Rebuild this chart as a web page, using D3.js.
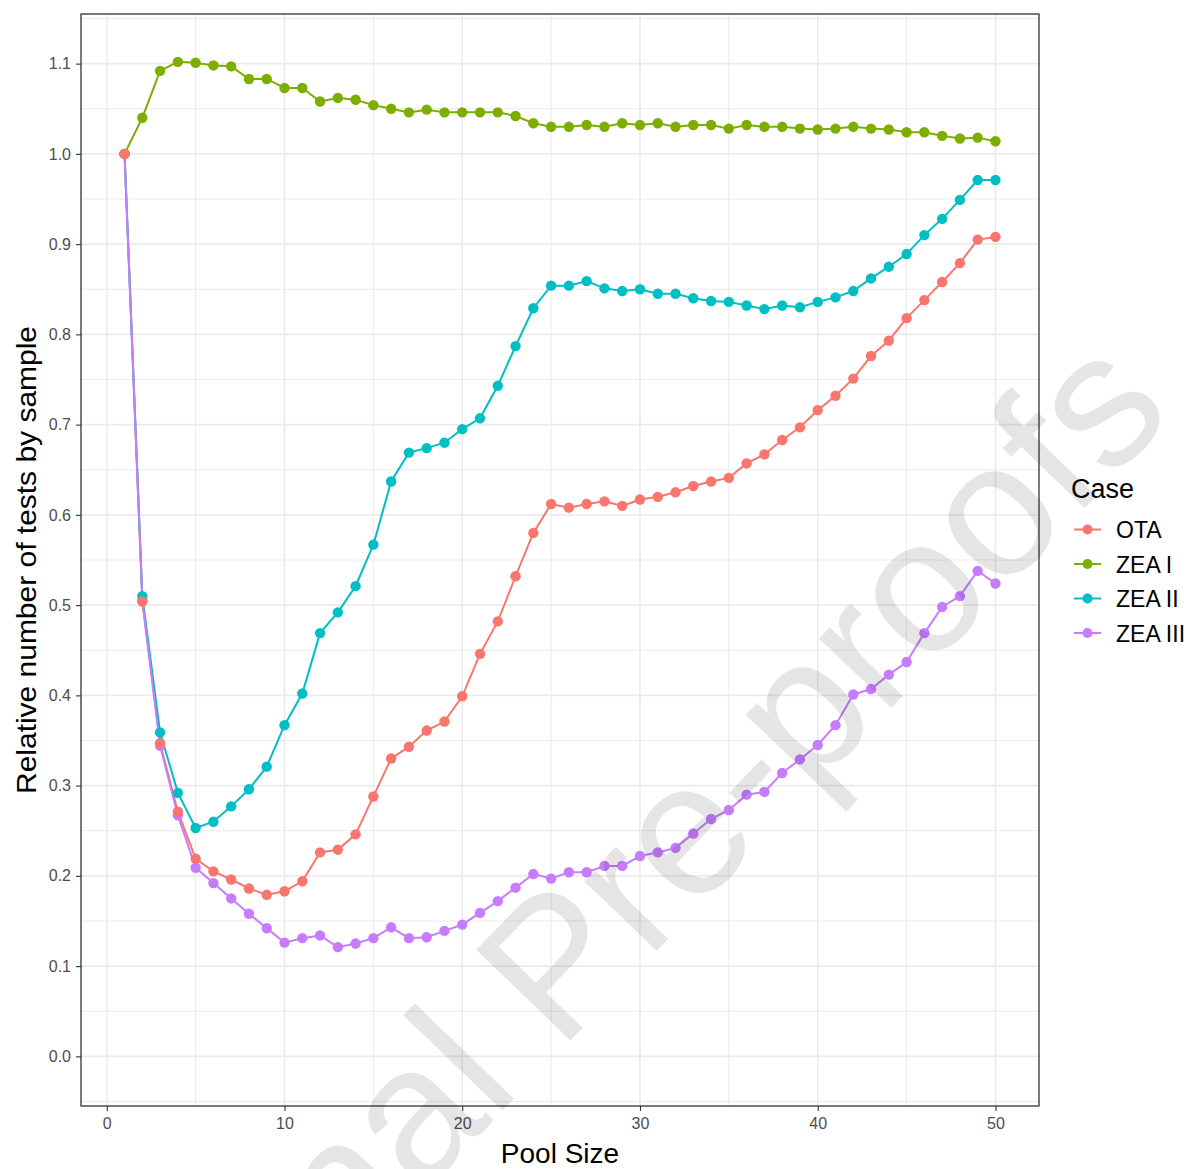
<!DOCTYPE html>
<html>
<head>
<meta charset="utf-8">
<script src="https://cdn.jsdelivr.net/npm/d3@7/dist/d3.min.js"></script>
<style>
  html, body { margin: 0; padding: 0; background: #fff; }
  svg { display: block; }
</style>
</head>
<body>
<svg id="chart" width="1187" height="1169"></svg>
<script>
const poolSize = d3.range(1, 51);
const caseNames = ["OTA", "ZEA I", "ZEA II", "ZEA III"];
const caseColors = ["#F8766D", "#7CAE00", "#00BFC4", "#C77CFF"];

const otaValues = [1.000, 0.504, 0.347, 0.271, 0.219, 0.205, 0.196, 0.186, 0.179, 0.183,
  0.194, 0.226, 0.229, 0.246, 0.288, 0.330, 0.343, 0.361, 0.371, 0.399,
  0.446, 0.482, 0.532, 0.580, 0.612, 0.608, 0.612, 0.615, 0.610, 0.617,
  0.620, 0.625, 0.632, 0.637, 0.641, 0.657, 0.667, 0.683, 0.697, 0.716,
  0.732, 0.751, 0.776, 0.793, 0.818, 0.838, 0.858, 0.879, 0.905, 0.908];
const zea1Values = [1.000, 1.040, 1.092, 1.102, 1.101, 1.098, 1.097, 1.083, 1.083, 1.073,
  1.073, 1.058, 1.062, 1.060, 1.054, 1.050, 1.046, 1.049, 1.046, 1.046,
  1.046, 1.046, 1.042, 1.034, 1.030, 1.030, 1.032, 1.030, 1.034, 1.032,
  1.034, 1.030, 1.032, 1.032, 1.028, 1.032, 1.030, 1.030, 1.028, 1.027,
  1.028, 1.030, 1.028, 1.027, 1.024, 1.024, 1.020, 1.017, 1.018, 1.014];
const zea2Values = [1.000, 0.510, 0.359, 0.292, 0.253, 0.260, 0.277, 0.296, 0.321, 0.367,
  0.402, 0.469, 0.492, 0.521, 0.567, 0.637, 0.669, 0.674, 0.680, 0.695,
  0.707, 0.743, 0.787, 0.829, 0.854, 0.854, 0.859, 0.851, 0.848, 0.850,
  0.845, 0.845, 0.840, 0.837, 0.836, 0.832, 0.828, 0.832, 0.830, 0.836,
  0.841, 0.848, 0.862, 0.875, 0.889, 0.910, 0.928, 0.949, 0.971, 0.971];
const zea3Values = [1.000, 0.505, 0.344, 0.267, 0.209, 0.192, 0.175, 0.158, 0.142, 0.126,
  0.131, 0.134, 0.121, 0.125, 0.131, 0.143, 0.131, 0.132, 0.139, 0.146,
  0.159, 0.172, 0.187, 0.202, 0.197, 0.204, 0.204, 0.211, 0.211, 0.222,
  0.226, 0.231, 0.247, 0.263, 0.273, 0.290, 0.293, 0.314, 0.329, 0.345,
  0.367, 0.401, 0.407, 0.423, 0.437, 0.469, 0.498, 0.510, 0.538, 0.524];

const xTicks = [0, 10, 20, 30, 40, 50];
const xMinor = [5, 15, 25, 35, 45];
const yTicks = [0.0, 0.1, 0.2, 0.3, 0.4, 0.5, 0.6, 0.7, 0.8, 0.9, 1.0, 1.1];
const yMinor = [-0.05, 0.05, 0.15, 0.25, 0.35, 0.45, 0.55, 0.65, 0.75, 0.85, 0.95, 1.05, 1.15];
const xTitle = "Pool Size";
const yTitle = "Relative number of tests by sample";
const legendTitle = "Case";
const watermark = "Journal Pre-proofs";

const seriesValues = [otaValues, zea1Values, zea2Values, zea3Values];
const series = caseNames.map((name, i) => ({
  name, color: caseColors[i],
  points: poolSize.map((xv, j) => ({ x: xv, y: seriesValues[i][j] }))
}));

const svg = d3.select("#chart");
const pLeft = 81, pRight = 1039, pTop = 14, pBottom = 1106;
const FONT = "'Liberation Sans', Arial, Helvetica, sans-serif";

const xScale = d3.scaleLinear().domain([-1.45, 52.45]).range([pLeft, pRight]);
const yScale = d3.scaleLinear().domain([-0.055, 1.155]).range([pBottom, pTop]);

svg.append("rect").attr("width", 1187).attr("height", 1169).attr("fill", "#fff");

const grid = svg.append("g");
grid.selectAll(".ymin").data(yMinor).join("line")
  .attr("x1", pLeft).attr("x2", pRight)
  .attr("y1", d => yScale(d)).attr("y2", d => yScale(d))
  .attr("stroke", "#EBEBEB").attr("stroke-width", 1);
grid.selectAll(".xmin").data(xMinor).join("line")
  .attr("y1", pTop).attr("y2", pBottom)
  .attr("x1", d => xScale(d)).attr("x2", d => xScale(d))
  .attr("stroke", "#EBEBEB").attr("stroke-width", 1);
grid.selectAll(".ymaj").data(yTicks).join("line")
  .attr("x1", pLeft).attr("x2", pRight)
  .attr("y1", d => yScale(d)).attr("y2", d => yScale(d))
  .attr("stroke", "#EBEBEB").attr("stroke-width", 1.6);
grid.selectAll(".xmaj").data(xTicks).join("line")
  .attr("y1", pTop).attr("y2", pBottom)
  .attr("x1", d => xScale(d)).attr("x2", d => xScale(d))
  .attr("stroke", "#EBEBEB").attr("stroke-width", 1.6);

// lines
const line = d3.line().x(d => xScale(d.x)).y(d => yScale(d.y));
svg.append("g").selectAll("path").data(series).join("path")
  .attr("d", d => line(d.points))
  .attr("fill", "none")
  .attr("stroke", d => d.color)
  .attr("stroke-width", 2);

// points (reverse order so OTA ends on top)
const pts = svg.append("g");
series.slice().reverse().forEach(s => {
  pts.append("g").selectAll("circle").data(s.points).join("circle")
    .attr("cx", d => xScale(d.x)).attr("cy", d => yScale(d.y))
    .attr("r", 5.2).attr("fill", s.color);
});

// panel border
svg.append("rect").attr("x", pLeft).attr("y", pTop)
  .attr("width", pRight - pLeft).attr("height", pBottom - pTop)
  .attr("fill", "none").attr("stroke", "#333333").attr("stroke-width", 1.3);

// axes
const xAxis = d3.axisBottom(xScale).tickValues(xTicks).tickFormat(d3.format("d")).tickSize(5).tickPadding(7);
const gx = svg.append("g").attr("transform", `translate(0,${pBottom})`).call(xAxis);
const yAxis = d3.axisLeft(yScale).tickValues(yTicks).tickFormat(d3.format(".1f")).tickSize(5).tickPadding(5);
const gy = svg.append("g").attr("transform", `translate(${pLeft},0)`).call(yAxis);
[gx, gy].forEach(g => {
  g.select(".domain").remove();
  g.selectAll(".tick line").attr("stroke", "#333333").attr("stroke-width", 1.1);
  g.selectAll(".tick text").attr("fill", "#4D4D4D")
    .style("font-family", FONT).style("font-size", "16px");
});

// titles
svg.append("text").attr("x", (pLeft + pRight) / 2).attr("y", 1163)
  .attr("text-anchor", "middle").attr("fill", "#000")
  .style("font-family", FONT).style("font-size", "28px").text(xTitle);
svg.append("text").attr("transform", `translate(36,${(pTop + pBottom) / 2}) rotate(-90)`)
  .attr("text-anchor", "middle").attr("fill", "#000")
  .style("font-family", FONT).style("font-size", "28px")
  .attr("textLength", 468).attr("lengthAdjust", "spacingAndGlyphs")
  .text(yTitle);

// legend
const lg = svg.append("g");
lg.append("text").attr("x", 1071).attr("y", 498)
  .style("font-family", FONT).style("font-size", "27px").attr("fill", "#000").text(legendTitle);
const keyY = [529.5, 564, 598.5, 633];
series.forEach((s, i) => {
  const g = lg.append("g").attr("transform", `translate(0,${keyY[i]})`);
  g.append("line").attr("x1", 1074).attr("x2", 1101).attr("y1", 0).attr("y2", 0)
    .attr("stroke", s.color).attr("stroke-width", 2);
  g.append("circle").attr("cx", 1087.5).attr("cy", 0).attr("r", 5).attr("fill", s.color);
  g.append("text").attr("x", 1116).attr("y", 8.5)
    .style("font-family", FONT).style("font-size", "23px").attr("fill", "#000").text(s.name);
});

// watermark
svg.append("text")
  .attr("transform", "translate(90,1538) rotate(-46)")
  .attr("fill", "#000").attr("fill-opacity", 0.1)
  .style("font-family", FONT).style("font-size", "190px")
  .text(watermark);
</script>
</body>
</html>
